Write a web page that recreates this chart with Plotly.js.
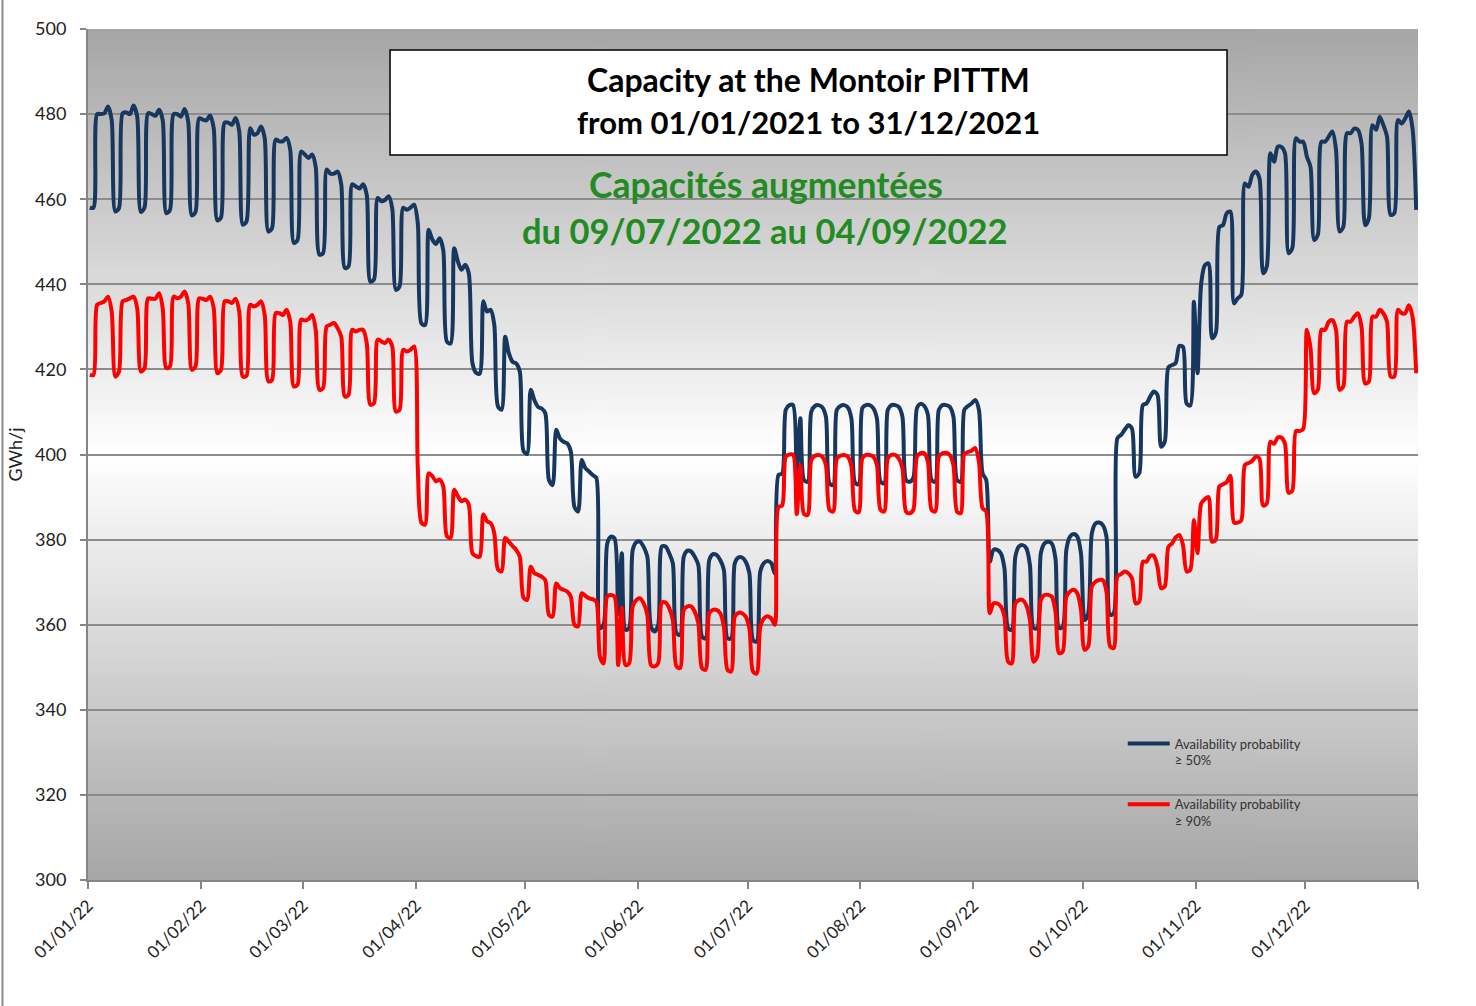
<!DOCTYPE html>
<html>
<head>
<meta charset="utf-8">
<script src="https://cdn.plot.ly/plotly-3.0.1.min.js"></script>
<style>
html,body{margin:0;padding:0;background:#ffffff;}
#chart{width:1476px;height:1006px;}
</style>
</head>
<body>
<div id="chart"></div>
<script>
// ---- Daily capacity, availability probability >= 50% (GWh/j) ----
const blueJan = [458,458,480,480,480.2,481.8,478.6,457.1,457.9,480.2,480.4,480,482,479.4,457,458,480.2,480,479.6,481,478.6,456.7,457.5,480,480,479.4,481.2,478.2,456.2,457,479];
const blueFeb = [478.7,478.5,479.7,476.7,455,455.7,478,478,477.5,479.1,476,454,454.8,476.7,475.2,475.5,477.1,474.3,452.4,453.2,474,473.6,473.6,474.4,471.6,449.7,450.4,471.2];
const blueMar = [470.5,469.7,470.5,467.5,447,447.3,467,466,466,466.5,463.5,443.8,444.2,463.5,463,462.5,463.5,461,440.6,441.2,460.3,459.5,459.8,460.7,457.8,438.7,439.5,458,457.5,458,458.7];
const blueApr = [454.4,430.8,430.4,452.8,450.5,449.5,450.8,448,426.5,426.1,448.5,445.4,443.4,444.6,442.6,421.5,419.2,419,436,433.6,434,430.5,411.3,410.5,427.7,423.8,421.8,421.4,419.5,400.9];
const blueMay = [400.1,415.2,412.8,411.2,410.8,409.7,394,392.8,405.8,403.8,403,402.6,400.7,387.7,386.6,398.7,396.8,396,395.2,394.5,359.2,360,379.1,380.7,380.3,362.5,376.8,358.8,359.2,377.6,379.4];
const blueJun = [379.5,378.3,376,359.5,358.4,360,378.4,378.4,376.8,374.4,358,357.6,376,377.4,377.2,376,374,357.2,356.8,375.2,376.6,376.4,375.2,372.9,356.8,356.8,374.4,375.8,375.8,374.8];
const blueJul = [372.1,356.4,356,372.5,374.5,375,374.5,372,395.2,395.5,410.5,411.6,411.6,395,408.5,394,393.6,410.1,411.4,411.6,411.1,408.9,393.2,392.8,410.5,411.4,411.6,411.1,408.5,393.4,393];
const blueAug = [410.9,411.6,411.6,410.9,408.5,393.6,393.2,410.5,411.6,411.6,411.2,408.9,394,393.6,394.5,410.9,411.9,411.4,409.3,394,393.6,410.5,411.6,411.6,411.2,408.9,394,393.6,410.5,411.4,412];
const blueSep = [412.8,410.5,395.6,394,374.8,377.6,377.6,376.8,373.3,359.2,358.8,376,378.4,378.7,378,374,359.2,359.2,376.8,379.1,379.5,379.1,375.6,359.2,359.5,377.6,380.7,381.3,380.7,376.8];
const blueOct = [361.1,362.7,381.5,383.8,384,383.4,380.7,362.3,362.7,403.8,404.6,405.8,406.9,406.1,394.8,395.6,411.6,412,413.6,414.8,414,401.8,403,420.5,421,421.5,425.5,425.3,412,411.5,435.9];
const blueNov = [419.1,440.2,444.5,444.9,427.3,428.5,453.5,453.9,456.7,457.1,435.5,436.7,437.5,463.7,462.9,465.7,466.5,464.9,442.6,444.2,470.8,468.8,472.3,472.3,470.8,447.3,448.5,474.3,473.5,473.5];
const blueDec = [470,467.6,450.4,451.6,473.5,473.5,474.7,475.9,471.6,452.4,453.5,475.5,475.5,476.6,476.3,473.1,453.9,455.5,477.4,476.3,479.4,477.4,474.7,456.3,456.7,478.6,477.8,479,480.6,476.6,457.5];

// ---- Daily capacity, availability probability >= 90% (GWh/j) ----
const redJan = [418.7,418.7,435.2,435.6,436,437.1,433.6,418.3,419.5,436,436.3,436.7,437.1,434.4,419.5,420.3,436.7,436.6,436.6,437.9,434.4,420.3,420.7,437.1,436.7,437.1,438.3,435.6,419.9,420.7,436.7];
const redFeb = [436.6,436.3,437.1,434.4,419.1,419.9,436,436,435.6,436.6,433.6,418.3,418.5,435.2,434.8,435.2,436,432.8,417.2,417.5,433.2,433.2,432.8,434,431.2,416,416.4,431.7];
const redMar = [431.5,431.8,432.8,429.3,415.2,415.6,430.1,430.5,430.9,429.7,427.7,413.6,414,429.3,428.9,429.3,429.3,426.2,411.7,412.1,427,426.6,426.2,427,425.4,410.1,410.5,424.6,424.2,424.6,425.4];
const redApr = [397,384,383.5,395.6,394.9,393.7,394.1,392.5,380.8,380.4,391.7,390.2,389,389.4,388.2,376.8,376.1,376,385.9,384.3,383.9,381.5,373,372.5,380.4,379.5,378.5,377.6,376,366.4];
const redMay = [365.8,373.6,372.1,371.7,371.3,370.5,362.3,361.9,369.7,368.6,368.2,367.8,366.6,360,359.6,367.4,366.8,366.2,366,365.4,352.5,350.9,366.7,367,366.6,350.5,363.9,350.5,350.9,364.3,365.8];
const redJun = [366.2,365,362.3,350.5,350.2,351,365.2,365.2,363.9,361.1,350.2,349.8,363.5,364.3,364.3,363.1,360.3,349.8,349.4,362.7,363.5,363.5,362.7,359.6,349.4,349,361.9,362.8,362.7,361.9];
const redJul = [359.2,349,348.5,359.5,361.5,362,361.5,360,387.7,388,399.5,400,400,386,397.5,386,385.8,398.7,399.7,399.9,399.5,397.5,387,386.6,399,399.7,399.9,399.5,397.3,386.8,386.4];
const redAug = [399.1,399.9,399.9,399.5,397.5,387,386.6,399.1,399.9,399.9,399.1,396.8,386.6,386.2,387,399.5,400.3,400.3,398.3,387,386.6,399.5,400.3,400.4,399.9,397.5,386.6,386.2,400.1,400.6,400.9];
const redSep = [401.5,398.3,387.4,386.6,362.7,365,365,364.3,361.9,351.3,350.9,365,365.8,365.8,364.6,361.1,351.3,352.5,365.8,367,367,366.6,363.1,353.3,353.7,366.6,367.8,368.2,367.4,363.5];
const redOct = [354.1,354.9,369,370.1,370.5,370.5,367.8,354.9,354.5,371.3,371.9,372.5,372.1,370.9,365,365.4,374.8,374.8,376.2,376.2,373.6,368.6,369,378.3,379.1,380.5,381.1,378.7,372.5,372.9,384.6];
const redNov = [376.8,388.5,389.5,390,379.5,380,392.5,393,393.5,395,384,384,384.5,397.5,398,398.5,399.5,399,388,388.5,403,402.5,404,404,402.5,391,391.5,405.5,405.5,406];
const redDec = [429.3,425,414.4,415.2,429.3,429.3,431.2,431.6,429.3,415.2,416,431.2,431.2,432.4,433.2,430,416.7,417.1,432.4,432.4,434,433.2,431.2,418.3,418.3,434,433.2,433.2,435.1,432.4,419.1];

// ---- Labels ----
const seriesNames = ['Availability probability<br>≥ 50%', 'Availability probability<br>≥ 90%'];
const tickDates = ['2022-01-01','2022-02-01','2022-03-01','2022-04-01','2022-05-01','2022-06-01','2022-07-01','2022-08-01','2022-09-01','2022-10-01','2022-11-01','2022-12-01','2023-01-01'];
const tickLabels = ['01/01/22','01/02/22','01/03/22','01/04/22','01/05/22','01/06/22','01/07/22','01/08/22','01/09/22','01/10/22','01/11/22','01/12/22',''];
const yTicks = [300,320,340,360,380,400,420,440,460,480,500];
const titleLines = ['Capacity at the Montoir PITTM', 'from 01/01/2021 to 31/12/2021'];
const noteLines = ['Capacités augmentées', 'du 09/07/2022 au 04/09/2022'];
const yTitle = 'GWh/j';

const blue = [].concat(blueJan, blueFeb, blueMar, blueApr, blueMay, blueJun, blueJul, blueAug, blueSep, blueOct, blueNov, blueDec);
const red = [].concat(redJan, redFeb, redMar, redApr, redMay, redJun, redJul, redAug, redSep, redOct, redNov, redDec);
const dates = blue.map((_, i) => {
  const d = new Date(Date.UTC(2022, 0, 1 + i, 12));
  return d.toISOString().slice(0, 10) + ' 12:00';
});

// gradient plot background
const cv = document.createElement('canvas');
cv.width = 4; cv.height = 400;
const ctx = cv.getContext('2d');
const g = ctx.createLinearGradient(0, 0, 0, 400);
g.addColorStop(0, '#a6a6a6');
g.addColorStop(0.5, '#ffffff');
g.addColorStop(1, '#a6a6a6');
ctx.fillStyle = g;
ctx.fillRect(0, 0, 4, 400);
const bgImg = cv.toDataURL('image/png');

const FONT = 'Lato, "Open Sans", sans-serif';

const traces = [
  {x: dates, y: blue, type: 'scatter', mode: 'lines', name: seriesNames[0], legendgroup: 'a',
   line: {color: '#17375e', width: 4, shape: 'spline', smoothing: 0.8}},
  {x: dates, y: red, type: 'scatter', mode: 'lines', name: seriesNames[1], legendgroup: 'b',
   line: {color: '#ff0000', width: 4, shape: 'spline', smoothing: 0.8}}
];

const layout = {
  width: 1476, height: 1006,
  margin: {l: 88, r: 58, t: 29, b: 126},
  paper_bgcolor: '#ffffff',
  plot_bgcolor: 'rgba(0,0,0,0)',
  font: {family: FONT, color: '#222'},
  showlegend: true,
  legend: {x: 0.778, y: 0.178, xanchor: 'left', yanchor: 'top', bgcolor: 'rgba(0,0,0,0)',
           font: {family: FONT, size: 13, color: '#333'}, tracegroupgap: 24, valign: 'top', itemwidth: 42},
  xaxis: {type: 'date', range: ['2022-01-01', '2023-01-01'], tickvals: tickDates, ticktext: tickLabels,
          tickangle: -45, ticks: 'outside', ticklen: 7, tickwidth: 2, tickcolor: '#868686',
          showline: true, linecolor: '#868686', linewidth: 2, showgrid: false, zeroline: false,
          tickfont: {family: FONT, size: 17, color: '#222'}, fixedrange: true},
  yaxis: {range: [300, 500], tickvals: yTicks, ticks: 'outside', ticklen: 6, tickwidth: 2, tickcolor: '#868686',
          showline: true, linecolor: '#868686', linewidth: 2, showgrid: true, gridcolor: '#8c8c8c', gridwidth: 2,
          zeroline: false, tickfont: {family: FONT, size: 18, color: '#222'}, ticklabelstandoff: 10,
          title: {text: yTitle, font: {family: FONT, size: 18, color: '#222'}, standoff: 8}, fixedrange: true},
  images: [{source: bgImg, xref: 'paper', yref: 'paper', x: 0, y: 1, sizex: 1, sizey: 1,
            sizing: 'stretch', xanchor: 'left', yanchor: 'top', layer: 'below'}],
  shapes: [
    {type: 'rect', xref: 'paper', yref: 'paper', x0: 0.2271, x1: 0.8564, y0: 0.8519, y1: 0.9753,
     fillcolor: '#ffffff', line: {color: '#000000', width: 1.5}, layer: 'above'},
    {type: 'line', xref: 'paper', yref: 'paper', x0: -0.0643, x1: -0.0643, y0: -0.16, y1: 1.05,
     line: {color: '#8a8a8a', width: 2}}
  ],
  annotations: [
    {text: titleLines[0], xref: 'paper', yref: 'paper', x: 0.5417, y: (880 - 79) / 851, xanchor: 'center', yanchor: 'middle',
     showarrow: false, font: {family: FONT, size: 32, color: '#000', weight: 'bold'}},
    {text: titleLines[1], xref: 'paper', yref: 'paper', x: 0.5417, y: (880 - 122) / 851, xanchor: 'center', yanchor: 'middle',
     showarrow: false, font: {family: FONT, size: 31, color: '#000', weight: 'bold'}},
    {text: noteLines[0], xref: 'paper', yref: 'paper', x: (766 - 88) / 1330, y: (880 - 185) / 851, xanchor: 'center', yanchor: 'middle',
     showarrow: false, font: {family: FONT, size: 35.5, color: '#228b22', weight: 'bold'}},
    {text: noteLines[1], xref: 'paper', yref: 'paper', x: (765 - 88) / 1330, y: (880 - 231) / 851, xanchor: 'center', yanchor: 'middle',
     showarrow: false, font: {family: FONT, size: 34.5, color: '#228b22', weight: 'bold'}}
  ]
};

Plotly.newPlot('chart', traces, layout, {displayModeBar: false, staticPlot: true});
</script>
</body>
</html>
